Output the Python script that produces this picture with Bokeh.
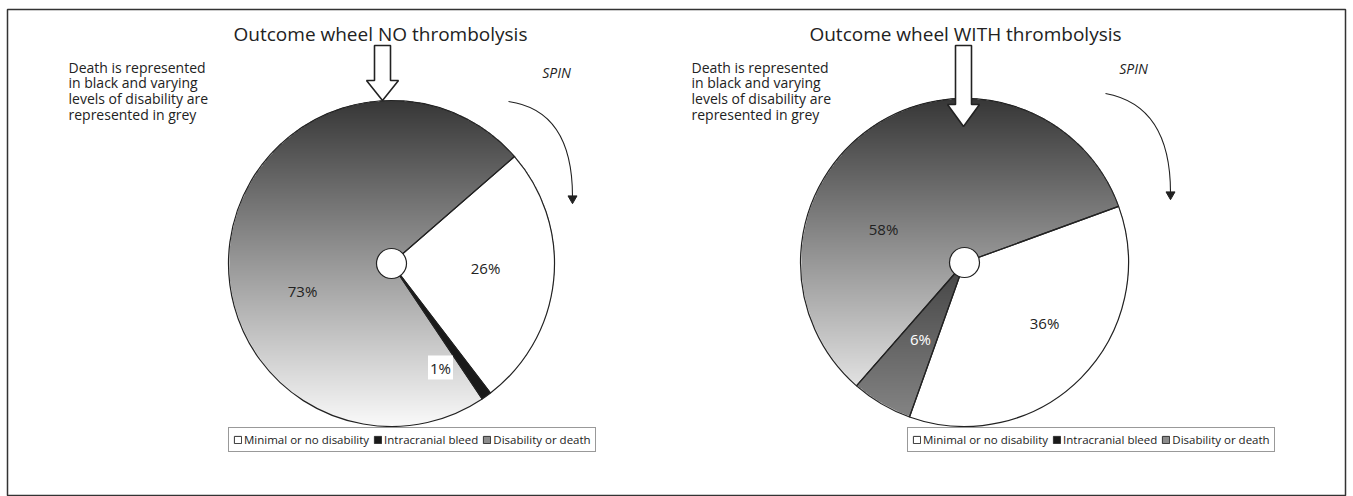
import numpy as np
from bokeh.plotting import figure
from bokeh.models import Range1d, Legend, LegendItem, ColumnDataSource
from bokeh.core.properties import value
from bokeh.embed import file_html
from bokeh.resources import INLINE

# ---------------- data ----------------
categories = ["Minimal or no disability", "Intracranial bleed", "Disability or death"]
pct_no_thrombolysis = [26, 1, 73]
pct_with_thrombolysis = [36, 6, 58]
titles = ["Outcome wheel NO thrombolysis", "Outcome wheel WITH thrombolysis"]
note_text = "Death is represented\nin black and varying\nlevels of disability are\nrepresented in grey"
spin_text = "SPIN"

# ---------------- layout / style ----------------
PW, PH = 1353, 496
FL, FR, FT = 7, 1345, 9          # frame edges on screen
W, H = FR - FL, PH - FT
FONT = "Open Sans"
INK = "#222222"


def sx(x):  # screen x -> data x
    return x - FL


def sy(y):  # screen y -> data y
    return PH - y


panels = [
    dict(pct=pct_no_thrombolysis, title=titles[0], cx=sx(391), cy=sy(263), r=163, start=41,
         bleed_color="#1a1a1a", bleed_grad=None,
         title_x=sx(380), note_x=sx(68), spin_x=sx(556), spin_y=sy(72),
         arrow_x=sx(382), arrow_top=sy(45), arrow_head=sy(80), arrow_tip=sy(100),
         curve=(sx(508), sy(101), sx(572), sy(110), sx(572), sy(196)),
         label_off=[(94, 4), (49, 104), (-89, 27)],
         label_col=[INK, INK, INK], label_bg=[None, "white", None],
         legend_loc=(228 - FL, PH - 452)),
    dict(pct=pct_with_thrombolysis, title=titles[1], cx=sx(964), cy=sy(262), r=164, start=20,
         bleed_color="#626262", bleed_grad=(0, 136),
         title_x=sx(965), note_x=sx(691), spin_x=sx(1133), spin_y=sy(68),
         arrow_x=sx(963), arrow_top=sy(45), arrow_head=sy(104), arrow_tip=sy(126),
         curve=(sx(1105), sy(93), sx(1170), sy(105), sx(1170), sy(192)),
         label_off=[(80, 60), (-44, 76), (-81, -34)],
         label_col=[INK, "white", INK], label_bg=[None, None, None],
         legend_loc=(907 - FL, PH - 452)),
]

p = figure(width=PW, height=PH, x_range=Range1d(0, W), y_range=Range1d(0, H),
           output_backend="svg", toolbar_location=None,
           min_border_left=FL, min_border_right=PW - FR, min_border_top=FT, min_border_bottom=0)
p.axis.visible = False
p.grid.visible = False
p.outline_line_color = "#333333"
p.outline_line_width = 1.5
p.background_fill_color = "white"


def disc_image(r, dark=55, light=250, ang_range=None):
    n = int(2 * r) * 2
    lin = np.linspace(-r, r, n)
    X, Y = np.meshgrid(lin, lin)
    mask = X ** 2 + Y ** 2 <= r * r
    if ang_range is not None:
        lo, hi = ang_range
        ang = np.arctan2(Y, X)
        mask &= np.mod(ang - lo, 2 * np.pi) <= (hi - lo)
    t = (Y + r) / (2 * r)
    g = np.clip(light + (dark - light) * t, 0, 255).astype(np.uint8)
    img = np.zeros((n, n), dtype=np.uint32)
    v = img.view(dtype=np.uint8).reshape((n, n, 4))
    v[..., 0] = g
    v[..., 1] = g
    v[..., 2] = g
    v[..., 3] = np.where(mask, 255, 0)
    return img


# legend proxy renderers (placed outside the visible range)
leg_fill = ["white", "#1a1a1a", "#8c8c8c"]
leg_renderers = [p.quad(left=[-60], right=[-50], top=[-50], bottom=[-60],
                        fill_color=c, line_color="#333333") for c in leg_fill]

for pan in panels:
    cx, cy, r = pan["cx"], pan["cy"], pan["r"]
    fr = np.array(pan["pct"], dtype=float) / sum(pan["pct"])
    cum = np.concatenate([[0.0], np.cumsum(fr)[:-1]])
    hi = np.deg2rad(pan["start"]) - cum * 2 * np.pi
    lo = hi - fr * 2 * np.pi

    # gradient disc for the disability slice
    p.image_rgba(image=[disc_image(r)], x=cx - r, y=cy - r, dw=2 * r, dh=2 * r)
    bleed_alpha = 1.0
    if pan["bleed_grad"] is not None:
        d, l = pan["bleed_grad"]
        p.image_rgba(image=[disc_image(r, dark=d, light=l, ang_range=(lo[1], hi[1]))],
                     x=cx - r, y=cy - r, dw=2 * r, dh=2 * r)
        bleed_alpha = 0.0

    src = ColumnDataSource(dict(
        x=[cx] * 3, y=[cy] * 3, lo=lo, hi=hi,
        fill=["white", pan["bleed_color"], "white"], alpha=[1.0, bleed_alpha, 0.0]))
    p.wedge(x="x", y="y", radius=r, start_angle="lo", end_angle="hi", direction="anticlock",
            fill_color="fill", fill_alpha="alpha", line_color=INK, line_width=1.2, source=src)
    # centre hub
    p.circle(x=[cx], y=[cy], radius=15, fill_color="white", line_color=INK, line_width=1.2)

    # percentage labels
    lx = [cx + o[0] for o in pan["label_off"]]
    ly = [cy - o[1] for o in pan["label_off"]]
    labels = [f"{v}%" for v in pan["pct"]]
    for i in range(3):
        kw = {}
        if pan["label_bg"][i]:
            kw = dict(background_fill_color=pan["label_bg"][i], padding=2)
        p.text(x=[lx[i]], y=[ly[i]], text=[labels[i]], text_font=value(FONT), text_font_size="15px",
               text_color=pan["label_col"][i], text_align="center", text_baseline="middle", **kw)

    # title
    p.text(x=[pan["title_x"]], y=[sy(33)], text=[pan["title"]], text_font=value(FONT),
           text_font_size="19px", text_color=INK, text_align="center", text_baseline="middle")
    # note
    p.text(x=[pan["note_x"]], y=[sy(57)], text=[note_text], text_font=value(FONT),
           text_font_size="14px", text_color=INK, text_align="left", text_baseline="top",
           text_line_height=0.84)
    # SPIN
    p.text(x=[pan["spin_x"]], y=[pan["spin_y"]], text=[spin_text], text_font=value(FONT),
           text_font_size="14px", text_font_style="italic", text_color=INK,
           text_align="center", text_baseline="middle")
    # curved spin arrow
    x0, y0, qx, qy, x1, y1 = pan["curve"]
    p.quadratic(x0=[x0], y0=[y0], cx=[qx], cy=[qy], x1=[x1], y1=[y1], line_color=INK, line_width=1.1)
    p.scatter(x=[x1], y=[y1 - 2], marker="inverted_triangle", size=9, fill_color=INK, line_color=INK)

    # block down-arrow at top
    ax, top, head, tip = pan["arrow_x"], pan["arrow_top"], pan["arrow_head"], pan["arrow_tip"]
    sw, hw = 8, 16
    p.patch(x=[ax - sw, ax + sw, ax + sw, ax + hw, ax, ax - hw, ax - sw],
            y=[top, top, head, head, tip, head, head],
            fill_color="white", line_color=INK, line_width=1.6)

    # legend
    leg = Legend(items=[LegendItem(label=c, renderers=[rr]) for c, rr in zip(categories, leg_renderers)],
                 location=pan["legend_loc"], orientation="horizontal",
                 label_text_font=FONT, label_text_font_size="11.5px", label_text_color=INK,
                 glyph_width=9, glyph_height=9, label_standoff=2, spacing=4, padding=4, margin=0,
                 label_height=15, border_line_color="#333333", border_line_width=1,
                 background_fill_color="white", background_fill_alpha=1.0)
    p.add_layout(leg, "center")

open("out.html", "w").write(file_html(p, INLINE))
